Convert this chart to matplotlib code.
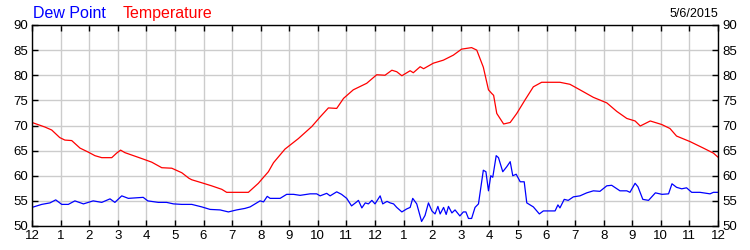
import numpy as np
import matplotlib.pyplot as plt

plt.rcParams['font.family'] = ['Liberation Sans', 'DejaVu Sans']

# Temperatura (ore de la miezul noptii, grade F)
temp_ore = [0, 0.45, 0.69, 0.97, 1.15, 1.39, 1.68, 1.97, 2.2, 2.44, 2.79, 2.96, 3.1, 3.25,
            3.6, 3.9, 4.19, 4.54, 4.89, 5.24, 5.49, 5.59, 5.94, 6.28, 6.64, 6.81, 7.57,
            7.92, 8.04, 8.27, 8.45, 8.85, 9.32, 9.79, 10.08, 10.37, 10.66, 10.9, 11.24,
            11.71, 12.06, 12.35, 12.59, 12.76, 12.94, 13.23, 13.34, 13.58, 13.7, 14.04,
            14.39, 14.74, 15.03, 15.38, 15.56, 15.79, 15.97, 16.08, 16.15, 16.26, 16.5,
            16.73, 16.96, 17.25, 17.54, 17.83, 18.47, 18.82, 19.17, 19.64, 20.11, 20.46,
            20.81, 21.1, 21.28, 21.63, 22.03, 22.32, 22.55, 23.02, 23.49, 23.84, 24.0]
temp_val = [70.6, 69.7, 69.1, 67.6, 67.1, 67.0, 65.5, 64.7, 64.0, 63.6, 63.6, 64.5, 65.1, 64.6,
            63.9, 63.3, 62.7, 61.6, 61.5, 60.6, 59.5, 59.2, 58.6, 58.0, 57.3, 56.7, 56.7,
            58.5, 59.3, 60.8, 62.6, 65.3, 67.4, 69.8, 71.7, 73.5, 73.4, 75.4, 77.1,
            78.4, 80.1, 80.0, 81.0, 80.7, 79.9, 80.9, 80.5, 81.7, 81.3, 82.4,
            83.0, 84.0, 85.2, 85.5, 85.0, 81.6, 77.1, 76.4, 76.0, 72.4, 70.3,
            70.6, 72.4, 75.1, 77.7, 78.6, 78.6, 78.2, 77.1, 75.6, 74.5, 72.8,
            71.4, 70.9, 69.9, 70.9, 70.2, 69.4, 67.9, 66.8, 65.5, 64.5, 63.7]

# Punctul de roua
roua_ore = [0, 0.34, 0.63, 0.83, 1.04, 1.27, 1.5, 1.8, 2.14, 2.44, 2.73, 2.9, 3.14, 3.37,
            3.89, 4.05, 4.42, 4.71, 4.95, 5.24, 5.59, 5.94, 6.23, 6.58, 6.87, 7.16, 7.45,
            7.63, 7.98, 8.1, 8.23, 8.33, 8.68, 8.91, 9.15, 9.38, 9.73, 9.96, 10.08, 10.31,
            10.43, 10.66, 10.83, 11.01, 11.18, 11.36, 11.42, 11.54, 11.66, 11.77, 11.89,
            12.0, 12.18, 12.27, 12.42, 12.53, 12.65, 12.76, 12.94, 13.11, 13.23, 13.32,
            13.46, 13.63, 13.75, 13.87, 13.99, 14.1, 14.2, 14.28, 14.4, 14.49, 14.57,
            14.69, 14.8, 14.97, 15.09, 15.18, 15.27, 15.38, 15.5, 15.62, 15.79, 15.88,
            15.97, 16.05, 16.12, 16.24, 16.32, 16.47, 16.61, 16.73, 16.82, 16.94, 17.08,
            17.22, 17.31, 17.54, 17.75, 17.89, 18.3, 18.4, 18.47, 18.62, 18.76, 18.94,
            19.17, 19.41, 19.64, 19.87, 20.11, 20.28, 20.57, 20.81, 20.92, 21.1, 21.2,
            21.37, 21.57, 21.81, 22.04, 22.27, 22.39, 22.55, 22.73, 22.9, 23.08, 23.37,
            23.72, 23.84, 24.0]
roua_val = [53.7, 54.3, 54.6, 55.2, 54.3, 54.3, 55.0, 54.4, 55.0, 54.7, 55.4, 54.7, 56.0, 55.5,
            55.7, 55.0, 54.7, 54.7, 54.4, 54.3, 54.3, 53.8, 53.3, 53.2, 52.8, 53.2, 53.5,
            53.8, 55.0, 54.8, 55.9, 55.5, 55.5, 56.3, 56.3, 56.1, 56.4, 56.4, 56.0, 56.5,
            56.0, 56.8, 56.3, 55.5, 54.0, 54.8, 55.1, 53.6, 54.6, 54.4, 55.1,
            54.4, 56.0, 54.4, 54.9, 54.6, 54.4, 53.7, 52.8, 53.4, 53.7, 55.5,
            54.4, 50.9, 52.1, 54.6, 53.0, 52.4, 53.9, 52.4, 53.7, 52.3, 53.9,
            52.6, 53.2, 52.0, 52.8, 52.8, 51.5, 51.5, 53.7, 54.4, 61.1, 60.8,
            57.0, 60.0, 59.7, 64.0, 63.6, 60.8, 61.8, 62.8, 60.0, 60.3, 58.8,
            58.8, 54.6, 53.8, 52.4, 53.0, 53.0, 54.2, 53.6, 55.3, 55.1, 55.8,
            56.0, 56.6, 57.0, 56.9, 58.0, 58.1, 57.0, 57.0, 56.7, 58.5, 57.8,
            55.3, 55.1, 56.6, 56.3, 56.4, 58.4, 57.7, 57.4, 57.6, 56.7, 56.7,
            56.4, 56.7, 56.7]

ore_ticks = list(range(25))
ore_labels = ['12'] + [str(i) for i in range(1, 12)] + ['12'] + [str(i) for i in range(1, 12)] + ['12']
y_ticks = list(range(50, 91, 5))

fig = plt.figure(figsize=(7.5, 2.5), dpi=100)
ax = fig.add_axes([32 / 750, 1 - 226 / 250, 686 / 750, 201 / 250])

ax.plot(temp_ore, temp_val, color='#ff0000', linewidth=0.9)
ax.plot(roua_ore, roua_val, color='#0000ff', linewidth=0.9)

ax.set_xlim(0, 24)
ax.set_ylim(50, 90)
ax.set_xticks(ore_ticks)
ax.set_xticklabels(ore_labels)
ax.set_yticks(y_ticks)
ax.grid(True, color='#cccccc', linewidth=1)
ax.set_axisbelow(True)
for s in ax.spines.values():
    s.set_color('black')
    s.set_linewidth(1)
ax.tick_params(direction='in', length=4, width=1, top=True, right=True,
               labelright=True, labelsize=9.5, pad=3, colors='black')

fig.text(33 / 750, 1 - 18 / 250, 'Dew Point', color='#0000ff', fontsize=11.5, va='baseline')
fig.text(123 / 750, 1 - 18 / 250, 'Temperature', color='#ff0000', fontsize=11.5, va='baseline')
fig.text(718 / 750, 1 - 17 / 250, '5/6/2015', color='black', fontsize=9, va='baseline', ha='right')

fig.savefig('out.png', dpi=100)
